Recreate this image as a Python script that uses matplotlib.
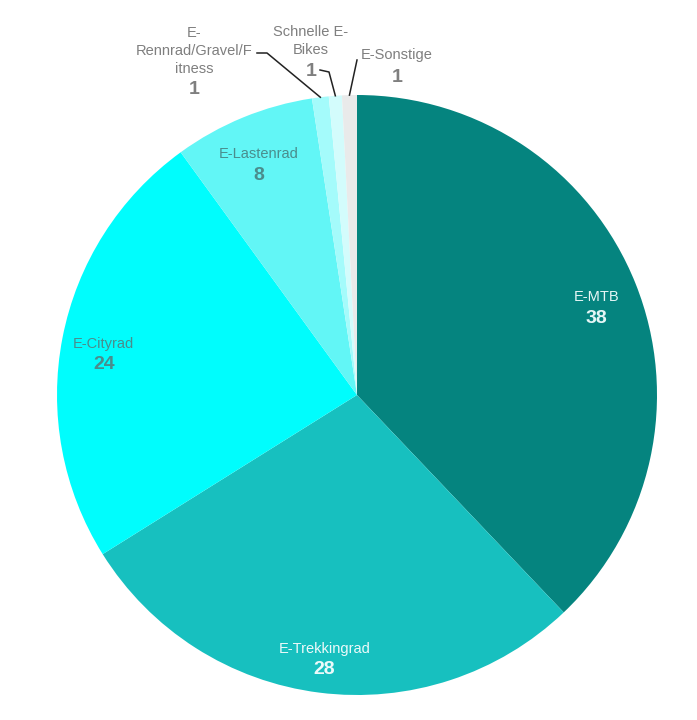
import numpy as np
import matplotlib
matplotlib.use("Agg")
import matplotlib.pyplot as plt

plt.rcParams['font.family'] = ['Liberation Sans', 'DejaVu Sans']

# shares (labels show rounded values)
categories = ['E-MTB', 'E-Trekkingrad', 'E-Cityrad', 'E-Lastenrad',
              'E-\nRennrad/Gravel/F\nitness', 'Schnelle E-\nBikes', 'E-Sonstige']
shares = [37.9, 28.2, 23.9, 7.6, 0.9, 0.7, 0.8]
shown = [38, 28, 24, 8, 1, 1, 1]
colors = ['#05847f', '#17c0bf', '#00fdfd', '#62f6f6', '#a4fbfb', '#d3fcfc', '#e9eaea']
text_colors = ['#e6f6f6', '#ecfafa', '#4a8d8d', '#4a8d8d']

W, H = 697, 720
cx, cy, R = 357, H - 395, 300

fig = plt.figure(figsize=(W / 100, H / 100), dpi=100)
ax = fig.add_axes([0, 0, 1, 1])

wedges, _ = ax.pie(shares, colors=colors, startangle=90, counterclock=False,
                   center=(cx, cy), radius=R, frame=True,
                   wedgeprops=dict(linewidth=0))
ax.set_xlim(0, W)
ax.set_ylim(0, H)
ax.set_aspect('equal')
ax.axis('off')

# labels inside the big slices
for i in range(4):
    w = wedges[i]
    ang = np.deg2rad((w.theta1 + w.theta2) / 2)
    x = cx + 0.86 * R * np.cos(ang)
    y = cy + 0.86 * R * np.sin(ang) - 8
    ax.text(x, y + 10, categories[i], ha='center', va='center', fontsize=10.5,
            color=text_colors[i])
    ax.text(x, y - 11, str(shown[i]), ha='center', va='center', fontsize=14,
            fontweight='bold', color=text_colors[i])

# small slices with leader lines
grey = '#7f7f7f'
outside = [
    # text x, text block centre y, number y, leader points
    (194, H - 51, H - 89, [(257, H - 53), (267, H - 53)]),
    (311, H - 41, H - 71, [(320, H - 70), (329, H - 72)]),
    (397, H - 55, H - 78, [(357, H - 60)]),
]
for k, (tx, ty, ny, pts) in enumerate(outside):
    i = 4 + k
    w = wedges[i]
    ang = np.deg2rad((w.theta1 + w.theta2) / 2)
    ex = cx + R * np.cos(ang)
    ey = cy + R * np.sin(ang)
    ax.text(tx, ty, categories[i], ha='center', va='center', fontsize=10.5,
            color=grey, linespacing=1.4)
    ax.text(tx, ny, str(shown[i]), ha='center', va='center', fontsize=14,
            fontweight='bold', color=grey)
    xs = [p[0] for p in pts] + [ex]
    ys = [p[1] for p in pts] + [ey]
    ax.plot(xs, ys, color='#222222', linewidth=1.1)

fig.savefig('out.png', dpi=100)
